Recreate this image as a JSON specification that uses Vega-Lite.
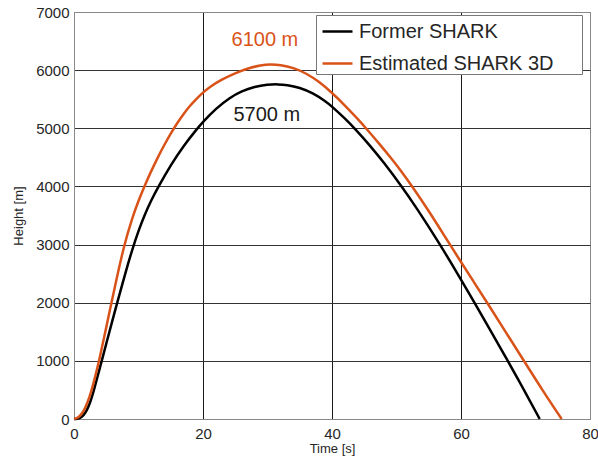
{
  "$schema": "https://vega.github.io/schema/vega-lite/v6.json",
  "width": 516,
  "height": 407,
  "autosize": {"type": "none"},
  "padding": {"left": 74, "top": 12, "right": 8, "bottom": 48},
  "background": "white",
  "config": {
    "font": "Liberation Sans",
    "view": {"stroke": "#888888", "strokeWidth": 1},
    "axis": {
      "domainColor": "#888888",
      "ticks": false,
      "labelFontSize": 15,
      "labelColor": "#262626",
      "titleFontSize": 13,
      "titleFontWeight": "normal",
      "titleColor": "#262626",
      "labelFlush": false,
      "labelOverlap": false,
      "gridWidth": 1
    }
  },
  "datasets": {
    "traj": [
      {"s": "Former SHARK", "t": 0, "h": 0},
      {"s": "Former SHARK", "t": 0.5, "h": 3},
      {"s": "Former SHARK", "t": 1, "h": 20},
      {"s": "Former SHARK", "t": 1.5, "h": 65},
      {"s": "Former SHARK", "t": 2, "h": 150},
      {"s": "Former SHARK", "t": 2.5, "h": 280},
      {"s": "Former SHARK", "t": 3, "h": 455},
      {"s": "Former SHARK", "t": 4, "h": 875},
      {"s": "Former SHARK", "t": 5, "h": 1295},
      {"s": "Former SHARK", "t": 6, "h": 1715},
      {"s": "Former SHARK", "t": 6.7, "h": 2000},
      {"s": "Former SHARK", "t": 8, "h": 2525},
      {"s": "Former SHARK", "t": 9, "h": 2905},
      {"s": "Former SHARK", "t": 10, "h": 3240},
      {"s": "Former SHARK", "t": 11, "h": 3525},
      {"s": "Former SHARK", "t": 12, "h": 3770},
      {"s": "Former SHARK", "t": 13.1, "h": 4000},
      {"s": "Former SHARK", "t": 15, "h": 4370},
      {"s": "Former SHARK", "t": 17, "h": 4700},
      {"s": "Former SHARK", "t": 19, "h": 4980},
      {"s": "Former SHARK", "t": 20, "h": 5110},
      {"s": "Former SHARK", "t": 22, "h": 5340},
      {"s": "Former SHARK", "t": 24.2, "h": 5530},
      {"s": "Former SHARK", "t": 26, "h": 5640},
      {"s": "Former SHARK", "t": 28, "h": 5715},
      {"s": "Former SHARK", "t": 30, "h": 5752},
      {"s": "Former SHARK", "t": 31.6, "h": 5758},
      {"s": "Former SHARK", "t": 33, "h": 5747},
      {"s": "Former SHARK", "t": 35, "h": 5701},
      {"s": "Former SHARK", "t": 37, "h": 5607},
      {"s": "Former SHARK", "t": 39, "h": 5465},
      {"s": "Former SHARK", "t": 40, "h": 5375},
      {"s": "Former SHARK", "t": 42, "h": 5169},
      {"s": "Former SHARK", "t": 43.6, "h": 4988},
      {"s": "Former SHARK", "t": 46, "h": 4690},
      {"s": "Former SHARK", "t": 48, "h": 4416},
      {"s": "Former SHARK", "t": 50.8, "h": 4002},
      {"s": "Former SHARK", "t": 53, "h": 3650},
      {"s": "Former SHARK", "t": 56.6, "h": 3031},
      {"s": "Former SHARK", "t": 60, "h": 2400},
      {"s": "Former SHARK", "t": 62, "h": 2020},
      {"s": "Former SHARK", "t": 64.5, "h": 1535},
      {"s": "Former SHARK", "t": 67.2, "h": 1010},
      {"s": "Former SHARK", "t": 69.7, "h": 515},
      {"s": "Former SHARK", "t": 72.2, "h": 0},
      {"s": "Estimated SHARK 3D", "t": 0, "h": 0},
      {"s": "Estimated SHARK 3D", "t": 0.5, "h": 15},
      {"s": "Estimated SHARK 3D", "t": 1, "h": 60},
      {"s": "Estimated SHARK 3D", "t": 1.5, "h": 140},
      {"s": "Estimated SHARK 3D", "t": 2, "h": 250},
      {"s": "Estimated SHARK 3D", "t": 2.7, "h": 480},
      {"s": "Estimated SHARK 3D", "t": 3.2, "h": 690},
      {"s": "Estimated SHARK 3D", "t": 3.9, "h": 1000},
      {"s": "Estimated SHARK 3D", "t": 5, "h": 1575},
      {"s": "Estimated SHARK 3D", "t": 5.8, "h": 2000},
      {"s": "Estimated SHARK 3D", "t": 6.8, "h": 2510},
      {"s": "Estimated SHARK 3D", "t": 7.8, "h": 3000},
      {"s": "Estimated SHARK 3D", "t": 9, "h": 3450},
      {"s": "Estimated SHARK 3D", "t": 10, "h": 3755},
      {"s": "Estimated SHARK 3D", "t": 11, "h": 4020},
      {"s": "Estimated SHARK 3D", "t": 11.8, "h": 4225},
      {"s": "Estimated SHARK 3D", "t": 13, "h": 4503},
      {"s": "Estimated SHARK 3D", "t": 14, "h": 4715},
      {"s": "Estimated SHARK 3D", "t": 15, "h": 4912},
      {"s": "Estimated SHARK 3D", "t": 16, "h": 5090},
      {"s": "Estimated SHARK 3D", "t": 17, "h": 5250},
      {"s": "Estimated SHARK 3D", "t": 18, "h": 5390},
      {"s": "Estimated SHARK 3D", "t": 19, "h": 5510},
      {"s": "Estimated SHARK 3D", "t": 20, "h": 5615},
      {"s": "Estimated SHARK 3D", "t": 21, "h": 5710},
      {"s": "Estimated SHARK 3D", "t": 22.9, "h": 5840},
      {"s": "Estimated SHARK 3D", "t": 25, "h": 5950},
      {"s": "Estimated SHARK 3D", "t": 27, "h": 6035},
      {"s": "Estimated SHARK 3D", "t": 29, "h": 6085},
      {"s": "Estimated SHARK 3D", "t": 30.4, "h": 6100},
      {"s": "Estimated SHARK 3D", "t": 32, "h": 6090},
      {"s": "Estimated SHARK 3D", "t": 34, "h": 6042},
      {"s": "Estimated SHARK 3D", "t": 36, "h": 5946},
      {"s": "Estimated SHARK 3D", "t": 38, "h": 5802},
      {"s": "Estimated SHARK 3D", "t": 40, "h": 5610},
      {"s": "Estimated SHARK 3D", "t": 42, "h": 5395},
      {"s": "Estimated SHARK 3D", "t": 44, "h": 5160},
      {"s": "Estimated SHARK 3D", "t": 45.4, "h": 4985},
      {"s": "Estimated SHARK 3D", "t": 47.4, "h": 4725},
      {"s": "Estimated SHARK 3D", "t": 49, "h": 4510},
      {"s": "Estimated SHARK 3D", "t": 50.5, "h": 4300},
      {"s": "Estimated SHARK 3D", "t": 52.5, "h": 3990},
      {"s": "Estimated SHARK 3D", "t": 55, "h": 3580},
      {"s": "Estimated SHARK 3D", "t": 58, "h": 3050},
      {"s": "Estimated SHARK 3D", "t": 60, "h": 2700},
      {"s": "Estimated SHARK 3D", "t": 62, "h": 2355},
      {"s": "Estimated SHARK 3D", "t": 64, "h": 2010},
      {"s": "Estimated SHARK 3D", "t": 66.8, "h": 1520},
      {"s": "Estimated SHARK 3D", "t": 69.7, "h": 1010},
      {"s": "Estimated SHARK 3D", "t": 72.6, "h": 500},
      {"s": "Estimated SHARK 3D", "t": 75.6, "h": 0}
    ]
  },
  "layer": [
    {
      "data": {"name": "traj"},
      "transform": [{"filter": "datum.s == 'Former SHARK'"}],
      "mark": {"type": "line", "strokeWidth": 2.5, "interpolate": "basis"},
      "encoding": {
        "x": {
          "field": "t", "type": "quantitative",
          "scale": {"domain": [0, 80], "nice": false, "zero": false},
          "axis": {
            "values": [0, 20, 40, 60, 80],
            "title": "Time [s]",
            "labelPadding": 7,
            "titlePadding": 1,
            "gridColor": {"condition": {"test": "datum.value == 0 || datum.value == 80", "value": "#888888"}, "value": "#1a1a1a"}
          }
        },
        "y": {
          "field": "h", "type": "quantitative",
          "scale": {"domain": [0, 7000], "nice": false},
          "axis": {
            "values": [0, 1000, 2000, 3000, 4000, 5000, 6000, 7000],
            "format": "d",
            "title": "Height [m]",
            "labelPadding": 5,
            "titlePadding": 10,
            "gridColor": {"condition": {"test": "datum.value == 0 || datum.value == 7000", "value": "#888888"}, "value": "#333333"}
          }
        },
        "color": {
          "field": "s", "type": "nominal",
          "scale": {"domain": ["Former SHARK", "Estimated SHARK 3D"], "range": ["#000000", "#D95319"]},
          "legend": {
            "title": null,
            "orient": "none",
            "legendX": 242,
            "legendY": 3,
            "symbolType": "stroke",
            "symbolSize": 900,
            "symbolStrokeWidth": 2.5,
            "symbolOffset": 5,
            "labelFontSize": 20,
            "labelColor": "#262626",
            "labelOffset": 5,
            "labelLimit": 400,
            "labelExpr": "datum.label + '\u00a0\u00a0\u00a0\u00a0\u00a0\u200b'",
            "padding": 0,
            "rowPadding": 5,
            "strokeColor": "#777777",
            "fillColor": "white"
          }
        }
      }
    },
    {
      "data": {"name": "traj"},
      "transform": [{"filter": "datum.s == 'Estimated SHARK 3D'"}],
      "mark": {"type": "line", "strokeWidth": 2.5, "interpolate": "basis"},
      "encoding": {
        "x": {"field": "t", "type": "quantitative"},
        "y": {"field": "h", "type": "quantitative"},
        "color": {"field": "s", "type": "nominal"}
      }
    },
    {
      "data": {"values": [{"t": 29.6, "h": 6526, "label": "6100 m"}]},
      "mark": {"type": "text", "fontSize": 20, "color": "#D95319", "align": "center", "baseline": "middle"},
      "encoding": {
        "x": {"field": "t", "type": "quantitative"},
        "y": {"field": "h", "type": "quantitative"},
        "text": {"field": "label"}
      }
    },
    {
      "data": {"values": [{"t": 29.9, "h": 5224, "label": "5700 m"}]},
      "mark": {"type": "text", "fontSize": 20, "color": "#1a1a1a", "align": "center", "baseline": "middle"},
      "encoding": {
        "x": {"field": "t", "type": "quantitative"},
        "y": {"field": "h", "type": "quantitative"},
        "text": {"field": "label"}
      }
    }
  ]
}
